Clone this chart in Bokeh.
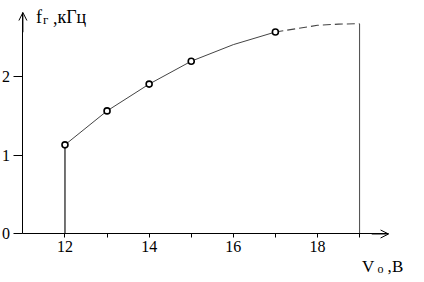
from bokeh.plotting import figure
from bokeh.models import Range1d, FixedTicker, Label, Arrow, OpenHead, LinearAxis
from bokeh.embed import file_html
from bokeh.resources import INLINE

# measured points: generator frequency vs supply voltage
volt = [12, 13, 14, 15, 17]
freq = [1.13, 1.56, 1.90, 2.19, 2.56]
# smooth curve
curve_v = [12, 13, 14, 15, 16, 17]
curve_f = [1.13, 1.56, 1.90, 2.19, 2.40, 2.56]
# dashed continuation
extra_v = [17, 18, 18.5, 19]
extra_f = [2.56, 2.645, 2.66, 2.665]
# ticks
x_major = [12, 14, 16, 18]
x_minor = [13, 15, 17, 19]
y_ticks = [0, 1, 2]
x_axis_span = (11.0, 19.69)
y_axis_span = (0.0, 2.807)

SERIF = "Liberation Serif"

p = figure(width=422, height=280,
           x_range=Range1d(10.4677, 20.4962), y_range=Range1d(-0.5894, 2.9594),
           x_axis_location=None, y_axis_location=None,
           output_backend="svg", toolbar_location=None,
           min_border_left=0, min_border_right=0,
           min_border_top=0, min_border_bottom=0)
p.outline_line_color = None
p.grid.visible = False
p.background_fill_color = "white"

xa = LinearAxis(fixed_location=0, bounds=x_axis_span)
xa.ticker = FixedTicker(ticks=x_major, minor_ticks=x_minor)
xa.major_tick_out = 4
xa.major_tick_in = 0
xa.minor_tick_out = 4
xa.minor_tick_in = 0
xa.minor_tick_line_color = "black"
xa.major_tick_line_color = "black"
xa.axis_line_color = "black"
xa.major_label_text_font = SERIF
xa.major_label_text_font_size = "16px"
xa.major_label_text_color = "black"
xa.major_label_standoff = 3
p.add_layout(xa, "below")

ya = LinearAxis(fixed_location=x_axis_span[0], bounds=y_axis_span)
ya.ticker = FixedTicker(ticks=y_ticks, minor_ticks=[])
ya.major_tick_out = 9
ya.major_tick_in = 0
ya.minor_tick_out = 0
ya.minor_tick_in = 0
ya.major_tick_line_color = "black"
ya.axis_line_color = "black"
ya.major_label_text_font = SERIF
ya.major_label_text_font_size = "16px"
ya.major_label_text_color = "black"
ya.major_label_standoff = 4
p.add_layout(ya, "left")

# drop lines at the ends of the range
p.segment(x0=[volt[0], extra_v[-1]], y0=[0, 0],
          x1=[volt[0], extra_v[-1]], y1=[freq[0], extra_f[-1]],
          line_color=["black", "#555555"], line_width=1.1)

p.line(curve_v, curve_f, line_color="#444444", line_width=1)
p.line(extra_v, extra_f, line_color="#444444", line_width=1.1, line_dash="8 4")
p.scatter(volt, freq, size=6, line_color="black", line_width=1.6, fill_color="white")

# axis arrows
p.add_layout(Arrow(end=OpenHead(size=8, line_width=1, line_color="black"),
                   x_start=x_axis_span[1] - 0.4, y_start=0,
                   x_end=x_axis_span[1], y_end=0, line_width=1, line_color="black"))
p.add_layout(Arrow(end=OpenHead(size=8, line_width=1, line_color="black"),
                   x_start=x_axis_span[0], y_start=y_axis_span[1] - 0.25,
                   x_end=x_axis_span[0], y_end=y_axis_span[1], line_width=1, line_color="black"))

# axis titles
def lab(x, y, dx, dy, t, size):
    p.add_layout(Label(x=x, y=y, x_offset=dx, y_offset=dy, text=t,
                       text_font=SERIF, text_font_size=size, text_color="black",
                       text_baseline="alphabetic", text_align="left"))

lab(x_axis_span[0], y_axis_span[1], 13, -4.5, "f", "18px")
lab(x_axis_span[0], y_axis_span[1], 20, -7, "г", "13px")
lab(x_axis_span[0], y_axis_span[1], 30, -4.5, ",", "18px")
lab(x_axis_span[0], y_axis_span[1], 34.5, -4.5, "кГц", "18px")

lab(extra_v[-1], 0, 2.5, -32.5, "V", "17px")
lab(extra_v[-1], 0, 18, -35, "o", "12px")
lab(extra_v[-1], 0, 28, -32.5, ",", "17px")
lab(extra_v[-1], 0, 32.5, -32.5, "B", "17px")

open("out.html", "w").write(file_html(p, INLINE))
